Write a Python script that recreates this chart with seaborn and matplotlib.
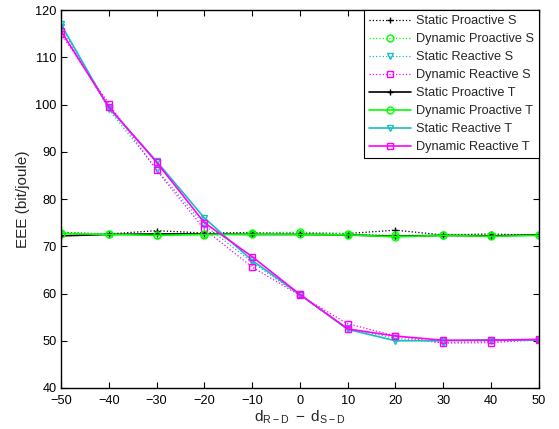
import numpy as np
import pandas as pd
import matplotlib
matplotlib.use("Agg")
import matplotlib.pyplot as plt
import seaborn as sns

# distance difference d_{R-D} - d_{S-D}
distance_diff = [-50, -40, -30, -20, -10, 0, 10, 20, 30, 40, 50]

# energy efficiency (bit/joule), simulation (S) and theory (T)
static_proactive_s = [72.9, 72.6, 73.3, 72.8, 72.9, 72.8, 72.7, 73.4, 72.4, 72.6, 72.3]
dynamic_proactive_s = [72.8, 72.6, 72.3, 72.4, 72.8, 73.0, 72.6, 72.3, 72.4, 72.3, 72.4]
static_reactive_s = [116.5, 99.0, 86.3, 74.5, 66.6, 59.6, 52.6, 50.5, 49.6, 49.9, 50.1]
dynamic_reactive_s = [115.0, 100.2, 86.1, 73.6, 65.6, 59.6, 53.6, 51.0, 49.5, 49.6, 50.2]
static_proactive_t = [72.2, 72.5, 72.6, 72.6, 72.5, 72.5, 72.4, 72.1, 72.3, 72.2, 72.4]
dynamic_proactive_t = [72.7, 72.5, 72.3, 72.5, 72.5, 72.5, 72.4, 72.0, 72.3, 72.1, 72.3]
static_reactive_t = [117.0, 99.3, 88.0, 76.0, 67.0, 59.8, 52.4, 50.0, 50.0, 50.2, 50.1]
dynamic_reactive_t = [115.6, 99.5, 87.8, 75.0, 67.8, 59.8, 52.5, 51.0, 50.1, 50.1, 50.3]

series_names = [
    "Static Proactive S", "Dynamic Proactive S", "Static Reactive S", "Dynamic Reactive S",
    "Static Proactive T", "Dynamic Proactive T", "Static Reactive T", "Dynamic Reactive T",
]
series_values = [
    static_proactive_s, dynamic_proactive_s, static_reactive_s, dynamic_reactive_s,
    static_proactive_t, dynamic_proactive_t, static_reactive_t, dynamic_reactive_t,
]

x_ticks = [-50, -40, -30, -20, -10, 0, 10, 20, 30, 40, 50]
y_ticks = [40, 50, 60, 70, 80, 90, 100, 110, 120]

df = pd.DataFrame({
    "diff": np.tile(distance_diff, len(series_names)),
    "eee": np.concatenate(series_values),
    "series": np.repeat(series_names, len(distance_diff)),
})

sns.set_style("white")
plt.rcParams["font.family"] = ["Liberation Sans", "DejaVu Sans"]
plt.rcParams["mathtext.fontset"] = "custom"
plt.rcParams["mathtext.rm"] = "Liberation Sans"
plt.rcParams["mathtext.it"] = "Liberation Sans"

colors = {"black": "#000000", "green": "#00ff00", "cyan": "#1cbcbc", "magenta": "#ff00ff"}
styles = {
    "Static Proactive S": (colors["black"], ":", "+"),
    "Dynamic Proactive S": (colors["green"], ":", "o"),
    "Static Reactive S": (colors["cyan"], ":", "v"),
    "Dynamic Reactive S": (colors["magenta"], ":", "s"),
    "Static Proactive T": (colors["black"], "-", "+"),
    "Dynamic Proactive T": (colors["green"], "-", "o"),
    "Static Reactive T": (colors["cyan"], "-", "v"),
    "Dynamic Reactive T": (colors["magenta"], "-", "s"),
}

fig = plt.figure(figsize=(5.59, 4.29), dpi=100)
ax = fig.add_axes([0.109, 0.0956, 0.855, 0.881])

for name in series_names:
    color, ls, mk = styles[name]
    sub = df[df["series"] == name]
    sns.lineplot(
        data=sub, x="diff", y="eee", ax=ax, label=name,
        color=color, linestyle=ls, linewidth=0.9 if ls == ":" else 1.2,
        marker=mk, markersize=5, markerfacecolor="none",
        markeredgecolor=color, markeredgewidth=1.0,
    )

ax.set_xlim(-50, 50)
ax.set_ylim(40, 120)
ax.set_xticks(x_ticks)
ax.set_yticks(y_ticks)
ax.set_xticklabels(["\u2212%d" % -t if t < 0 else "%d" % t for t in x_ticks])
ax.tick_params(direction="in", length=4, width=0.8, labelsize=9.2,
               bottom=True, left=True, top=True, right=True, colors="black")
ax.tick_params(axis="x", pad=5)
ax.tick_params(axis="y", pad=3)
for sp in ax.spines.values():
    sp.set_color("black")
    sp.set_linewidth(1.0)

ax.set_xlabel("$\\mathregular{d_{R-D}\\ -\\ d_{S-D}}$", fontsize=11, labelpad=1)
ax.set_ylabel("EEE (bit/joule)", fontsize=11, labelpad=4)

leg = ax.legend(loc="upper right", borderaxespad=0, fontsize=9.2, frameon=True,
                fancybox=False, edgecolor="black", framealpha=1,
                handlelength=3.3, labelspacing=0.47, borderpad=0.4, handletextpad=0.35)
leg.get_frame().set_linewidth(0.8)

fig.savefig("out.png", dpi=100)
